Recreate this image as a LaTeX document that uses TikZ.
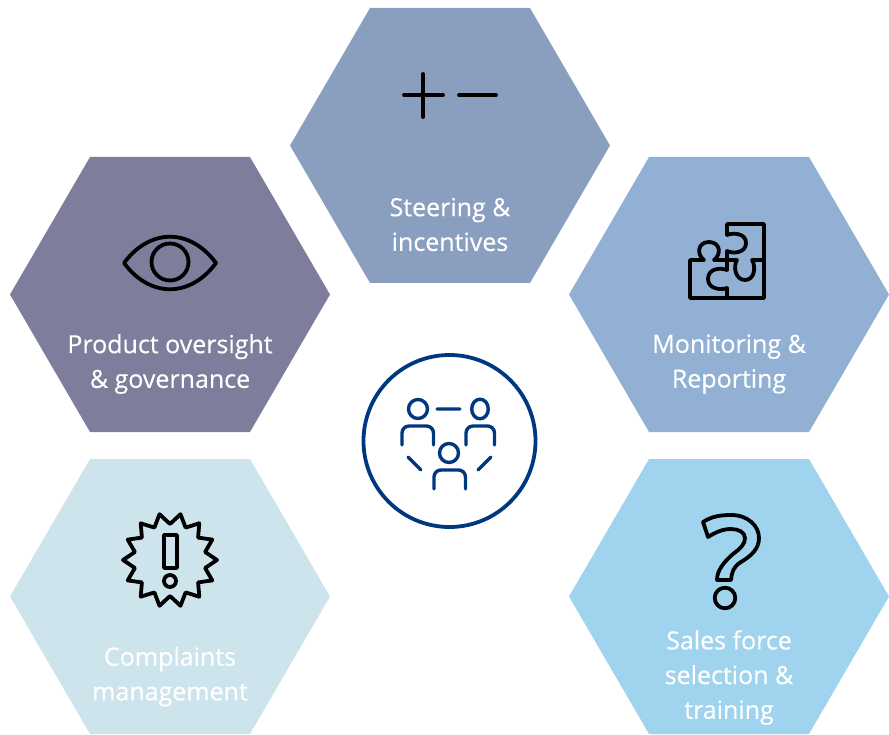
\documentclass[tikz,border=0pt]{standalone}
\usepackage{fontspec}
\setmainfont{Open Sans}[FakeBold=0.35]
\definecolor{hexTop}{HTML}{8A9FBF}
\definecolor{hexLeft}{HTML}{7E7D9B}
\definecolor{hexRight}{HTML}{91B0D4}
\definecolor{hexBL}{HTML}{CEE4EC}
\definecolor{hexBR}{HTML}{A0D4EE}
\definecolor{navy}{HTML}{003781}
\tikzset{
  labeltext/.style={text=white,align=center,font=\fontsize{25}{34.7}\selectfont,inner sep=0pt},
  icon/.style={draw=black,line width=3.8pt,line cap=round,line join=round},
  team/.style={draw=navy,line width=3.4pt,line cap=round,line join=round},
}
\newcommand{\hexagon}[3]{\fill[#3] (#1-160,#2) -- (#1-80,#2-137.5) -- (#1+80,#2-137.5) -- (#1+160,#2) -- (#1+80,#2+137.5) -- (#1-80,#2+137.5) -- cycle;}
\newcommand{\personbody}[4]{\draw[team,rounded corners=7pt] (#1,#4) -- (#1,#3) -- (#2,#3) -- (#2,#4);}
\begin{document}
\begin{tikzpicture}[x=1pt,y=-1pt]
\useasboundingbox (0,0) rectangle (889,735);
\hexagon{450}{145.5}{hexTop}
\hexagon{170}{294.5}{hexLeft}
\hexagon{729}{294.5}{hexRight}
\hexagon{170}{596.5}{hexBL}
\hexagon{729}{596.5}{hexBR}
% labels
\node[labeltext] (steering) at (450,224.5) {Steering \&\\incentives};
\node[labeltext] (oversight) at (170,364) {Product oversight\\\& governance};
\node[labeltext] (monitoring) at (729,364) {Monitoring \&\\Reporting};
\node[labeltext] (complaints) at (170,676.5) {Complaints\\management};
\node[labeltext] (sales) at (729,677.5) {Sales force\\selection \&\\training};
% plus minus
\draw[icon] (404,95) -- (443,95) (423,74) -- (423,117) (459,95) -- (496,95);
% eye
\draw[icon] (124,263) .. controls (150,228) and (190,228) .. (216,263) .. controls (190,298) and (150,298) .. cycle;
\draw[icon] (170,262) circle[radius=18.5];
% puzzle
\draw[icon] (727,235) -- (727,224) -- (764,224) -- (764,298) -- (690,298) -- (690,260) -- (704,260)
  .. controls (696,254) and (698,242) .. (709,242) .. controls (720,242) and (722,254) .. (714,260) -- (737,260)
  .. controls (733,266) and (735,280) .. (745,280) .. controls (755,280) and (756,266) .. (752,260) -- (764,260);
\draw[icon] (727,235) .. controls (733,232.5) and (746,233) .. (746,243) .. controls (746,253) and (733,254) .. (727,251) -- (727,270)
  .. controls (721,267.5) and (708,268) .. (708,279) .. controls (708,289) and (721,290.5) .. (727,288) -- (727,298);
% star
\draw[icon] (217,560) -- (205.1,568) -- (212.3,580.4) -- (198.1,582.4) -- (199.3,596.7) -- (185.6,592.4) -- (180.5,605.8) -- (170,596) -- (159.5,605.8) -- (154.4,592.4) -- (140.7,596.7) -- (141.9,582.4) -- (127.7,580.4) -- (134.9,568) -- (123,560) -- (134.9,552) -- (127.7,539.6) -- (141.9,537.6) -- (140.7,523.3) -- (154.4,527.6) -- (159.5,514.2) -- (170,524) -- (180.5,514.2) -- (185.6,527.6) -- (199.3,523.3) -- (198.1,537.6) -- (212.3,539.6) -- (205.1,552) -- cycle;
\draw[icon] (164,535) rectangle (177,568);
\draw[icon] (170,581) circle[radius=6];
% question mark
\draw[icon] (703,522) .. controls (712,516) and (722,515) .. (731,515) .. controls (748,515) and (759,526) .. (759,538) .. controls (759,549) and (751,556) .. (741,562) .. controls (733,567) and (732,572) .. (731,580) -- (717,580) .. controls (717,570) and (724,562) .. (733,554) .. controls (741,548) and (745,544) .. (745,538) .. controls (745,532) and (738,529) .. (731,529) .. controls (723,529) and (716,532) .. (708,537) -- cycle;
\draw[icon] (725,598) circle[radius=10.3];
% centre
\draw[team,line width=3.8pt] (449.5,441) circle[radius=86];
\draw[team] (418,409) circle[radius=9.5];
\draw[team] (480,409) ellipse[x radius=8.3,y radius=9.8];
\draw[team] (449,453) circle[radius=9.5];
\personbody{402}{433.5}{426}{445}
\personbody{466}{494.5}{426}{445}
\personbody{434}{465.5}{470}{489}
\draw[team] (437,409) -- (460,409) (408,457) -- (421,470) (491,457) -- (478,470);
\end{tikzpicture}
\end{document}
